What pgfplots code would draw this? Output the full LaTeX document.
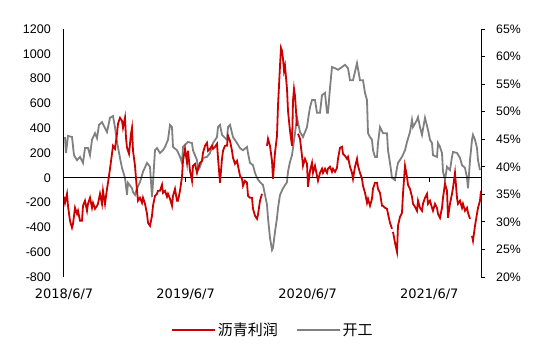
\documentclass[border=0pt]{standalone}
\usepackage{pgfplots}
\pgfplotsset{compat=1.18}
\usepackage{fontspec}
\setmainfont{Liberation Sans}
\newfontfamily\dejavu{DejaVu Sans}
\newfontfamily\cjk{Noto Sans CJK SC}
\definecolor{profred}{RGB}{204,0,0}
\definecolor{rategrey}{RGB}{128,128,128}
\begin{document}
\begin{tikzpicture}
\useasboundingbox (-64pt,-77pt) rectangle (486pt,277pt);
% right axis: operating rate
\begin{axis}[
  scale only axis, width=417pt, height=248pt,
  xmin=0, xmax=1251, ymin=20, ymax=65,
  axis x line=none,
  axis y line*=right,
  axis line style={-, line width=1pt},
  ytick={20,25,...,65},
  yticklabel={\pgfmathprintnumber{\tick}\%},
  ytick style={line width=1pt, black},
  tick align=outside, major tick length=4pt,
  /pgf/number format/assume math mode=true,
  yticklabel style={font=\fontsize{12.3}{14}\selectfont, inner sep=0pt, xshift=11pt},
]
\addplot[rategrey, line width=1.8pt] coordinates {
(3,45.4)(6,42.5)(12,45.6)(24,45.4)(30,42.1)(39,41.2)(48,41.8)(57,40.7)(63,43.4)(72,43.4)
(78,42.1)(84,44.9)(93,46.1)(99,45.2)(105,47.6)(114,48.1)(123,47.0)(129,46.3)(138,48.9)(147,49.2)
(153,47.2)(159,44.5)(168,41.6)(174,39.8)(183,38.0)(189,34.9)(192,37.1)(204,36.1)(207,35.4)(213,34.9)
(219,36.1)(228,37.2)(237,39.1)(249,40.7)(258,40.0)(264,34.5)(267,37.1)(273,43.0)(279,43.4)(288,42.5)
(297,43.0)(303,43.6)(312,44.9)(318,47.6)(324,47.2)(327,43.6)(339,43.0)(348,41.8)(354,40.7)(357,43.6)
(372,44.5)(384,44.3)(387,43.0)(399,41.2)(402,39.4)(408,40.0)(417,41.6)(429,41.8)(438,42.5)(447,44.3)
(459,45.4)(462,47.2)(468,47.6)(474,45.8)(489,44.9)(492,47.2)(498,47.6)(507,45.4)(519,44.3)(528,43.4)
(537,43.0)(549,43.6)(552,42.5)(558,40.7)(567,40.3)(573,38.9)(579,38.0)(588,37.2)(597,36.7)(603,34.9)
(609,33.1)(612,30.7)(618,27.1)(624,24.9)(627,25.3)(633,28.2)(639,30.7)(642,32.5)(648,34.9)(657,36.1)
(669,37.2)(672,39.1)(678,40.9)(684,42.1)(693,46.1)(699,48.9)(708,46.3)(717,45.4)(729,47.2)(732,48.5)
(738,50.8)(744,52.1)(753,52.1)(759,49.8)(768,49.8)(774,53.0)(783,53.4)(789,49.8)(792,49.8)(798,54.3)
(804,58.1)(813,57.9)(822,57.6)(834,58.1)(843,58.5)(852,57.9)(858,55.7)(867,55.7)(879,58.8)(888,55.7)
(897,55.7)(903,53.4)(909,52.1)(912,46.1)(918,45.4)(924,44.9)(927,43.0)(933,41.8)(939,41.8)(942,44.3)
(948,47.2)(957,46.1)(969,46.1)(972,43.0)(978,40.7)(984,38.0)(993,37.6)(999,39.8)(1002,40.7)(1014,41.8)
(1023,43.0)(1029,44.5)(1038,46.3)(1044,48.5)(1047,47.2)(1059,48.5)(1062,49.0)(1068,47.2)(1074,45.8)(1083,48.9)
(1092,46.7)(1098,44.9)(1104,44.3)(1107,42.1)(1119,41.8)(1122,44.3)(1128,43.6)(1134,42.5)(1137,39.1)(1143,37.6)
(1149,40.0)(1158,39.4)(1164,41.8)(1167,42.7)(1179,42.5)(1188,41.6)(1194,40.3)(1203,39.8)(1209,38.0)(1212,36.1)
(1218,41.2)(1224,44.9)(1227,45.8)(1233,44.9)(1239,43.4)(1242,41.2)(1248,39.4)
};
\end{axis}
% left axis: profit
\begin{axis}[
  scale only axis, width=417pt, height=248pt,
  xmin=0, xmax=1251, ymin=-800, ymax=1200,
  axis x line*=bottom,
  x axis line style={draw=none},
  axis y line*=left,
  y axis line style={-, line width=1pt},
  ytick={-800,-600,...,1200},
  xtick={0,365,731,1096},
  xticklabels={2018/6/7,2019/6/7,2020/6/7,2021/6/7},
  major tick length=0pt,
  /pgf/number format/1000 sep={},
  /pgf/number format/assume math mode=true,
  yticklabel style={font=\fontsize{12.5}{14}\selectfont, inner sep=0pt, xshift=-13pt},
  xticklabel style={font=\dejavu\fontsize{13}{15}\selectfont, inner sep=0pt, yshift=-12pt},
  unbounded coords=jump,
  legend style={at={(0.501,-0.214)}, anchor=center, draw=none, fill=none,
    legend columns=2, font=\cjk\fontsize{15}{17}\selectfont,
    /tikz/every even column/.append style={column sep=16pt}},
  legend image code/.code={\draw[#1, line width=1.8pt] (0pt,0pt) -- (43pt,0pt);},
]
\draw[black, line width=1pt] (axis cs:0,0) -- (axis cs:1251,0);
\draw[black, line width=0.8pt] (axis cs:365,0) -- ++(0pt,-4pt);
\draw[black, line width=0.8pt] (axis cs:731,0) -- ++(0pt,-4pt);
\draw[black, line width=0.8pt] (axis cs:1096,0) -- ++(0pt,-4pt);
\addplot[profred, line width=1.8pt] coordinates {
(0,-153)(3,-202)(9,-129)(12,-226)(18,-347)(24,-403)(27,-371)(33,-242)(39,-290)(42,-266)
(48,-347)(54,-347)(57,-226)(63,-185)(69,-266)(72,-210)(78,-161)(84,-242)(87,-202)(93,-250)
(99,-226)(102,-210)(108,-129)(114,-210)(117,-105)(123,-210)(129,-89)(132,-40)(138,73)(144,194)
(147,258)(153,234)(159,355)(162,436)(168,484)(174,460)(177,403)(183,484)(186,323)(189,242)
(195,194)(201,355)(204,403)(207,218)(213,97)(219,-105)(222,-185)(228,-161)(234,-202)(237,-161)
(243,-210)(249,-290)(252,-363)(258,-387)(264,-306)(267,-226)(273,-145)(279,-129)(282,-105)(288,-105)
(294,-56)(297,-121)(303,-105)(309,-153)(312,-129)(318,-169)(324,-226)(327,-145)(333,-89)(339,-185)
(342,-185)(348,-105)(354,8)(357,137)(363,234)(369,121)(372,218)(378,56)(384,-24)(387,97)
(393,113)(399,40)(402,73)(408,121)(414,137)(417,202)(423,258)(429,282)(432,218)(438,234)
(444,258)(447,234)(453,250)(459,274)(462,161)(468,-40)(474,153)(477,218)(483,258)(489,258)
(492,339)(498,298)(504,218)(507,161)(513,113)(519,137)(522,97)(528,16)(534,-8)(537,-65)
(543,-24)(549,-40)(552,-145)(558,-161)(564,-161)(567,-250)(573,-306)(579,-331)(582,-298)(588,-185)
(594,-129)(600,nan)
(609,258)(612,315)(618,258)(624,137)(627,-8)(633,202)(639,339)(642,581)(648,903)(651,1048)
(654,1024)(657,960)(660,863)(663,903)(669,718)(672,540)(678,379)(684,258)(687,621)(690,718)
(693,661)(696,540)(699,419)(700,nan)
(702,355)(708,315)(714,177)(717,97)(723,153)(729,113)(732,-73)(738,56)(744,121)(747,40)
(753,97)(759,16)(762,-24)(768,40)(774,73)(777,40)(783,73)(789,40)(792,73)(798,89)
(804,48)(807,73)(813,48)(819,81)(822,153)(828,242)(834,250)(837,194)(843,177)(849,153)
(852,169)(858,89)(864,40)(867,-8)(873,89)(879,153)(882,97)(888,40)(894,-8)(897,-65)
(903,-121)(909,-202)(912,-169)(918,-226)(924,-169)(927,-89)(933,-40)(939,-40)(942,-89)(948,-121)
(954,-226)(957,-226)(963,-242)(969,-250)(972,-290)(978,-363)(984,-411)(985,nan)
(987,-436)(993,-524)(999,-597)(1002,-387)(1008,-315)(1014,-282)(1017,-129)(1023,97)(1029,8)(1032,-56)
(1038,-89)(1044,-153)(1047,-210)(1053,-234)(1059,-266)(1062,-185)(1068,-242)(1074,-266)(1077,-210)(1083,-161)
(1089,-129)(1092,-210)(1098,-185)(1104,-242)(1107,-266)(1113,-210)(1119,-242)(1122,-290)(1128,-323)(1134,-242)
(1137,-161)(1143,-48)(1149,-105)(1152,-323)(1158,-210)(1164,-129)(1167,-81)(1173,40)(1179,-161)(1182,-210)
(1188,-185)(1194,-242)(1197,-210)(1203,-266)(1209,-242)(1212,-282)(1218,-331)(1220,nan)
(1224,-468)(1227,-508)(1233,-387)(1239,-290)(1242,-242)(1248,-185)(1251,-105)
};
\addlegendentry{沥青利润}
\addlegendimage{rategrey}
\addlegendentry{开工}
\end{axis}
\end{tikzpicture}
\end{document}
